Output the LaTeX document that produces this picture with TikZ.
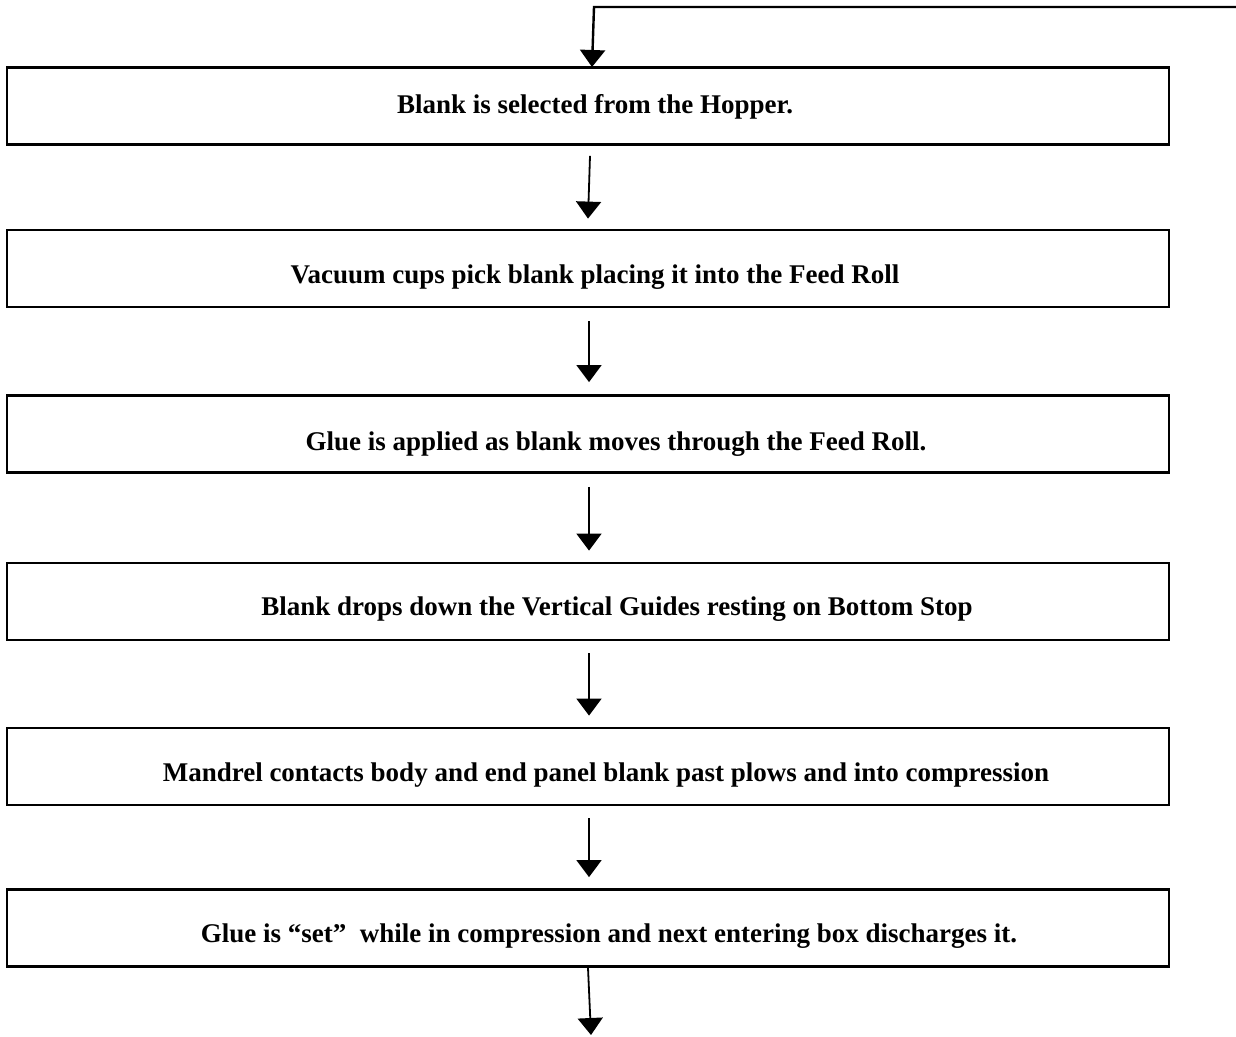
\documentclass[tikz,border=0pt]{standalone}
\usepackage{fontspec}
\setmainfont{Liberation Serif}
\usetikzlibrary{arrows.meta}
\begin{document}
\begin{tikzpicture}[x=1pt,y=-1pt,
  stepbox/.style={draw, line width=2.8pt, rectangle, minimum width=1162pt, minimum height=77pt, inner sep=0pt},
  steptext/.style={font=\bfseries\fontsize{27}{32}\selectfont, inner sep=0pt},
  flow/.style={line width=1.8pt, -{Triangle[width=25pt,length=17pt]}}]
\useasboundingbox (0,0) rectangle (1236,1036);
\node[stepbox] (b1) at (588,106) {};
\node[stepbox] (b2) at (588,268.5) {};
\node[stepbox] (b3) at (588,434) {};
\node[stepbox] (b4) at (588,601.5) {};
\node[stepbox] (b5) at (588,766.5) {};
\node[stepbox] (b6) at (588,928) {};
\node[steptext] (t1) at (595,107) {Blank is selected from the Hopper.};
\node[steptext] (t2) at (595,277) {Vacuum cups pick blank placing it into the Feed Roll};
\node[steptext] (t3) at (616,444) {Glue is applied as blank moves through the Feed Roll.};
\node[steptext] (t4) at (617,609) {Blank drops down the Vertical Guides resting on Bottom Stop};
\node[steptext] (t5) at (606,775) {Mandrel contacts body and end panel blank past plows and into compression};
\node[steptext] (t6) at (609,936) {Glue is ``set''\ \ while in compression and next entering box discharges it.};
\coordinate (fb) at (1236,7);
\coordinate (fbc) at (594,7);
\coordinate (endpt) at (591,1035);
\draw[flow, line width=2.4pt] (fb) -- (fbc) -- (592,67);
\draw[flow] ([xshift=2pt,yshift=-10pt]b1.south) -- ([yshift=10pt]b2.north);
\draw[flow] ([xshift=1pt,yshift=-13pt]b2.south) -- ([xshift=1pt,yshift=12pt]b3.north);
\draw[flow] ([xshift=1pt,yshift=-13pt]b3.south) -- ([xshift=1pt,yshift=11pt]b4.north);
\draw[flow] ([xshift=1pt,yshift=-12pt]b4.south) -- ([xshift=1pt,yshift=11pt]b5.north);
\draw[flow] ([xshift=1pt,yshift=-12pt]b5.south) -- ([xshift=1pt,yshift=11pt]b6.north);
\draw[flow] (b6.south) -- (endpt);
\end{tikzpicture}
\end{document}
